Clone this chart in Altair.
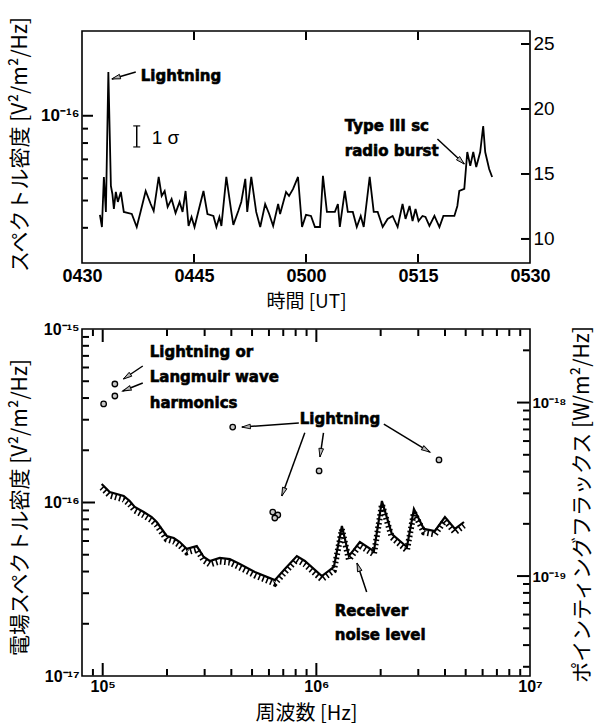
import math
import altair as alt
import pandas as pd

# ---------------- upper panel: spectral density vs. time ----------------
# minutes after 04:30 UT; level read on the right-hand linear scale
TIME_MIN = [2.40, 2.67, 2.93, 3.20, 3.53, 3.87, 4.07, 4.27, 4.53, 4.80,
            5.20, 5.60, 6.67, 7.33, 7.87, 8.53, 9.20, 9.60, 10.27, 10.67,
            11.07, 11.47, 12.00, 12.53, 13.07, 13.47, 13.87, 14.27, 14.67, 15.07,
            15.73, 16.27, 16.80, 17.60, 18.00, 18.40, 18.67, 19.33, 20.00, 20.27,
            20.93, 21.33, 21.87, 22.13, 22.67, 23.33, 23.87, 24.53, 25.07, 25.60,
            26.27, 26.53, 27.33, 27.73, 28.27, 28.93, 29.47, 30.00, 30.67, 31.20,
            31.87, 32.27, 32.80, 33.87, 34.27, 34.53, 35.20, 35.60, 36.27, 36.80,
            37.33, 37.73, 38.53, 39.07, 39.60, 40.27, 40.93, 41.60, 42.27, 42.93,
            43.33, 43.87, 44.27, 44.67, 45.07, 45.60, 46.00, 46.53, 47.20, 47.87,
            48.40, 49.87, 50.27, 50.53, 51.20, 51.60, 52.00, 52.40, 52.80, 53.33,
            53.73, 54.00, 54.53, 54.93]
LEVEL = [11.85, 10.92, 14.77, 12.08, 22.85, 14.08, 13.46, 12.31, 13.62, 12.85,
         13.62, 12.08, 11.92, 10.92, 12.15, 13.69, 12.69, 12.15, 14.77, 13.31,
         13.69, 12.46, 13.08, 12.00, 12.85, 12.08, 13.69, 11.00, 11.69, 10.92,
         12.46, 13.69, 11.92, 11.77, 10.92, 11.69, 11.00, 14.77, 12.08, 11.08,
         12.15, 12.85, 14.62, 12.08, 14.77, 12.08, 10.92, 12.69, 11.92, 11.00,
         12.69, 11.92, 13.62, 13.31, 13.85, 14.77, 10.92, 11.85, 11.77, 10.92,
         10.92, 14.85, 12.08, 12.08, 12.69, 10.92, 13.69, 12.08, 12.08, 10.92,
         11.77, 10.92, 14.77, 12.08, 12.08, 10.92, 11.54, 11.77, 10.92, 12.69,
         11.54, 12.54, 11.38, 12.31, 11.38, 11.77, 11.69, 11.00, 11.77, 10.92,
         11.77, 11.77, 12.54, 13.69, 13.85, 16.69, 15.62, 16.69, 15.54, 16.69,
         18.69, 16.69, 15.38, 14.77]

TIME_DOMAIN = [0.0, 60.0]
LEVEL_DOMAIN = [8.15, 26.0]
TOP_DENSITY_DOMAIN = [3e-17, 2e-16]
TIME_TICKS = [0, 15, 30, 45, 60]
TIME_INNER_TICKS = [15.0, 30.0, 45.0]
TIME_LABELS = ["0430", "0445", "0500", "0515", "0530"]
LEVEL_TICKS = [10.0, 15.0, 20.0, 25.0]
LEVEL_LABELS = ["10", "15", "20", "25"]
TOP_DENSITY_MAJOR = [1e-16]
TOP_DENSITY_LABELS = ["10⁻¹⁶"]
TOP_DENSITY_MINOR = [4e-17, 5e-17, 6e-17, 7e-17, 8e-17, 9e-17]

TOP_NOTE_TEXT = ["Lightning", "Type III sc", "radio burst"]
TOP_NOTE_T = [7.87, 35.2, 35.2]
TOP_NOTE_V = [22.54, 18.69, 16.77]
TOP_ARROW_T1 = [7.2, 47.6]
TOP_ARROW_V1 = [22.85, 17.69]
TOP_ARROW_T2 = [4.0, 51.2]
TOP_ARROW_V2 = [22.31, 15.77]
SIGMA_T = [7.33]
SIGMA_LOW = [17.08]
SIGMA_HIGH = [18.7]
SIGMA_TEXT = ["1 σ"]
SIGMA_TEXT_T = [9.33]
SIGMA_TEXT_V = [17.75]

# ---------------- lower panel: field spectrum vs. frequency ----------------
NOISE_FREQ = [9.89e4, 1.078e5, 1.254e5, 1.338e5, 1.412e5, 1.556e5, 1.696e5, 1.790e5,
              1.994e5, 2.151e5, 2.295e5, 2.475e5, 2.756e5, 2.972e5, 3.171e5, 3.532e5,
              3.934e5, 4.382e5, 5.152e5, 6.392e5, 7.121e5, 8.105e5, 8.834e5, 1.061e6,
              1.208e6, 1.317e6, 1.420e6, 1.598e6, 1.859e6, 2.027e6, 2.258e6, 2.654e6,
              2.862e6, 3.188e6, 3.589e6, 3.998e6, 4.454e6, 4.909e6]
NOISE_LEVEL = [1.278e-16, 1.149e-16, 1.090e-16, 1.020e-16, 9.42e-17, 8.82e-17, 8.25e-17,
               7.72e-17, 6.41e-17, 6.24e-17, 5.92e-17, 5.40e-17, 5.61e-17, 4.85e-17,
               4.60e-17, 4.79e-17, 4.72e-17, 4.42e-17, 3.98e-17, 3.57e-17, 4.14e-17,
               4.91e-17, 4.60e-17, 3.77e-17, 4.25e-17, 7.32e-17, 4.91e-17, 5.92e-17,
               5.25e-17, 1.020e-16, 6.58e-17, 5.54e-17, 9.17e-17, 7.04e-17, 6.85e-17,
               8.25e-17, 7.04e-17, 7.72e-17]
EVENT_FREQ = [1.01e5, 1.14e5, 1.14e5, 4.06e5, 6.25e5, 6.60e5, 6.39e5, 1.03e6, 3.75e6]
EVENT_LEVEL = [3.70e-16, 4.11e-16, 4.82e-16, 2.72e-16, 8.81e-17, 8.47e-17, 8.14e-17,
               1.52e-16, 1.76e-16]

Z0 = 376.7  # impedance of free space, ohm: Poynting flux = E^2 / Z0
FREQ_DOMAIN = [8e4, 1e7]
FIELD_DOMAIN = [1e-17, 1e-15]
FLUX_DOMAIN = [FIELD_DOMAIN[0] / Z0, FIELD_DOMAIN[1] / Z0]
FREQ_MAJOR = [1e5, 1e6, 1e7]
FREQ_LABELS = ["10⁵", "10⁶", "10⁷"]
FREQ_INNER_MAJOR = [1e5, 1e6]
FREQ_MINOR = [9e4, 2e5, 3e5, 4e5, 5e5, 6e5, 7e5, 8e5, 9e5,
              2e6, 3e6, 4e6, 5e6, 6e6, 7e6, 8e6, 9e6]
FIELD_MAJOR = [1e-17, 1e-16, 1e-15]
FIELD_LABELS = ["10⁻¹⁷", "10⁻¹⁶", "10⁻¹⁵"]
FIELD_INNER_MAJOR = [1e-16]
FIELD_MINOR = [2e-17, 3e-17, 4e-17, 5e-17, 6e-17, 7e-17, 8e-17, 9e-17,
               2e-16, 3e-16, 4e-16, 5e-16, 6e-16, 7e-16, 8e-16, 9e-16]
FLUX_MAJOR = [1e-19, 1e-18]
FLUX_LABELS = ["10⁻¹⁹", "10⁻¹⁸"]
FLUX_MINOR = [3e-20, 4e-20, 5e-20, 6e-20, 7e-20, 8e-20, 9e-20,
              2e-19, 3e-19, 4e-19, 5e-19, 6e-19, 7e-19, 8e-19, 9e-19, 2e-18]

BOT_NOTE_TEXT = ["Lightning or", "Langmuir wave", "harmonics", "Receiver", "noise level"]
BOT_NOTE_F = [1.66e5, 1.66e5, 1.66e5, 1.22e6, 1.22e6]
BOT_NOTE_E = [7.37e-16, 5.29e-16, 3.75e-16, 2.37e-17, 1.72e-17]
BOT_CENTER_TEXT = ["Lightning"]
BOT_CENTER_F = [1.29e6]
BOT_CENTER_E = [3.03e-16]
BOT_ARROW_F1 = [1.54e5, 1.54e5, 8.28e5, 8.83e5, 1.08e6, 2.07e6, 1.72e6]
BOT_ARROW_E1 = [6.12e-16, 4.88e-16, 2.87e-16, 2.52e-16, 2.52e-16, 2.83e-16, 3.05e-17]
BOT_ARROW_F2 = [1.25e5, 1.24e5, 4.48e5, 6.89e5, 1.04e6, 3.40e6, 1.55e6]
BOT_ARROW_E2 = [5.15e-16, 4.39e-16, 2.72e-16, 1.09e-16, 1.83e-16, 1.95e-16, 4.48e-17]

# ---------------- layout & style ----------------
W = 448
H_TOP = 232
H_BOT = 347
INSET = 0.5  # ticks start just inside the frame line
TICK_FONT = "Liberation Sans"
TITLE_FONT = "Noto Sans CJK JP"
NOTE_FONT = "DejaVu Sans"
ARROW_SHAPE = "M0,0L0.3,1.1L-0.3,1.1Z"


def label_expr(values, labels):
    expr = "''"
    for v, s in reversed(list(zip(values, labels))):
        tol = abs(v) * 1e-3 if v else 1e-6
        expr = f"abs(datum.value - {v!r}) < {tol!r} ? '{s}' : ({expr})"
    return expr


def lin(domain):
    return alt.Scale(type="linear", domain=domain, nice=False, zero=False)


def log(domain):
    return alt.Scale(type="log", domain=domain, nice=False)


def label_axis(orient, values, labels, size, weight, pad, title=None, **kw):
    # labels only; the inward ticks are drawn as segments
    opts = dict(orient=orient, values=values, labelExpr=label_expr(values, labels),
                ticks=False, tickSize=0, domain=False, grid=False,
                labelFont=TICK_FONT, labelFontSize=size, labelFontWeight=weight,
                labelPadding=pad, labelFlush=False, labelOverlap=False)
    if title:
        opts.update(title=title, titleFont=TITLE_FONT, titleFontWeight="normal",
                    titleBaseline="middle", titleAlign="center", **kw)
    else:
        opts.update(title=None)
    return alt.Axis(**opts)


def y_carrier(values, scale, axis, other_scale, other_value):
    df = pd.DataFrame({"v": values, "o": [other_value] * len(values)})
    return alt.Chart(df).mark_point(opacity=0).encode(
        y=alt.Y("v:Q", scale=scale, axis=axis),
        x=alt.X("o:Q", scale=other_scale, axis=None))


def at_pixel(domain, is_log, span, px):
    """Data value lying px pixels from the start of a scale's range."""
    a, b = domain
    if is_log:
        return a * (b / a) ** (px / span)
    return a + (b - a) * px / span


def side_ticks(values, orient, length, xdom, ydom, xlog, ylog, height):
    """Inward tick segments (x1, y1, x2, y2) along one side of the frame."""
    n = len(values)
    vals = [float(v) for v in values]
    if orient == "left":
        a, b = at_pixel(xdom, xlog, W, INSET), at_pixel(xdom, xlog, W, length)
        return [a] * n, vals, [b] * n, vals
    if orient == "right":
        a, b = at_pixel(xdom, xlog, W, W - INSET), at_pixel(xdom, xlog, W, W - length)
        return [a] * n, vals, [b] * n, vals
    if orient == "bottom":
        a, b = at_pixel(ydom, ylog, height, INSET), at_pixel(ydom, ylog, height, length)
    else:
        a, b = (at_pixel(ydom, ylog, height, height - INSET),
                at_pixel(ydom, ylog, height, height - length))
    return vals, [a] * n, vals, [b] * n


def join(*parts):
    out = ([], [], [], [])
    for p in parts:
        for acc, col in zip(out, p):
            acc.extend(col)
    return out


def segments(cols, xscale, yscale, width):
    x1, y1, x2, y2 = cols
    df = pd.DataFrame({"x1": x1, "y1": y1, "x2": x2, "y2": y2})
    return alt.Chart(df).mark_rule(color="black", strokeWidth=width, strokeCap="butt").encode(
        x=alt.X("x1:Q", scale=xscale, axis=None), y=alt.Y("y1:Q", scale=yscale, axis=None),
        x2="x2:Q", y2="y2:Q")


def arrow_angles(dx, dy):
    return [math.degrees(math.atan2(a, b)) % 360 for a, b in zip(dx, dy)]


def arrow_heads(x2, y2, xscale, yscale, angles):
    df = pd.DataFrame({"x2": x2, "y2": y2, "ang": angles})
    return alt.Chart(df).mark_point(shape=ARROW_SHAPE, filled=True, fill="#b4b4b4",
                                    stroke="black", strokeWidth=0.9, size=240, opacity=1).encode(
        x=alt.X("x2:Q", scale=xscale, axis=None), y=alt.Y("y2:Q", scale=yscale, axis=None),
        angle=alt.Angle("ang:Q", scale=None))


def notes(text, xs, ys, xscale, yscale, align, size=15):
    df = pd.DataFrame({"t": text, "x": xs, "y": ys})
    return alt.Chart(df).mark_text(font=NOTE_FONT, fontWeight="bold", fontSize=size,
                                   align=align, baseline="middle", color="black",
                                   stroke="black", strokeWidth=0.6).encode(
        x=alt.X("x:Q", scale=xscale, axis=None), y=alt.Y("y:Q", scale=yscale, axis=None),
        text="t:N")


# ---------------- upper panel ----------------
t_scale = lin(TIME_DOMAIN)
v_scale = lin(LEVEL_DOMAIN)
d_scale = log(TOP_DENSITY_DOMAIN)


def density_to_level(d):
    # position of a left-axis (log) value expressed on the right-axis (linear) scale
    frac = math.log(d / TOP_DENSITY_DOMAIN[0]) / math.log(TOP_DENSITY_DOMAIN[1] / TOP_DENSITY_DOMAIN[0])
    return LEVEL_DOMAIN[0] + (LEVEL_DOMAIN[1] - LEVEL_DOMAIN[0]) * frac


series = alt.Chart(pd.DataFrame({"t": TIME_MIN, "v": LEVEL})).mark_line(
    color="black", strokeWidth=1.8, strokeJoin="miter").encode(
    x=alt.X("t:Q", scale=t_scale,
            axis=label_axis("bottom", TIME_TICKS, TIME_LABELS, 18, "bold", 4,
                            title="時間 [UT]", titleFontSize=19, titleX=W / 2, titleY=38)),
    y=alt.Y("v:Q", scale=v_scale,
            axis=label_axis("right", LEVEL_TICKS, LEVEL_LABELS, 19, "normal", 3)))

sx_top = W / (TIME_DOMAIN[1] - TIME_DOMAIN[0])
sy_top = H_TOP / (LEVEL_DOMAIN[1] - LEVEL_DOMAIN[0])
top_ang = arrow_angles([(b - a) * sx_top for a, b in zip(TOP_ARROW_T1, TOP_ARROW_T2)],
                       [(b - a) * sy_top for a, b in zip(TOP_ARROW_V1, TOP_ARROW_V2)])


def top_side(values, orient, length):
    return side_ticks(values, orient, length, TIME_DOMAIN, LEVEL_DOMAIN, False, False, H_TOP)


top_pointer_lines = join(
    (TOP_ARROW_T1, TOP_ARROW_V1, TOP_ARROW_T2, TOP_ARROW_V2),
    (SIGMA_T, SIGMA_LOW, SIGMA_T, SIGMA_HIGH),
)
top_tick_lines = join(
    top_side(TIME_INNER_TICKS, "bottom", 9),
    top_side(TIME_INNER_TICKS, "top", 9),
    top_side(LEVEL_TICKS, "right", 9),
    top_side([density_to_level(d) for d in TOP_DENSITY_MAJOR], "left", 11),
    top_side([density_to_level(d) for d in TOP_DENSITY_MINOR], "left", 6),
)

sigma_df = pd.DataFrame({"t": SIGMA_T * 2, "v": SIGMA_LOW + SIGMA_HIGH})
sigma_caps = alt.Chart(sigma_df).mark_tick(
    orient="horizontal", color="black", size=7, thickness=1.6).encode(
    x=alt.X("t:Q", scale=t_scale, axis=None), y=alt.Y("v:Q", scale=v_scale, axis=None))
sigma_text = alt.Chart(pd.DataFrame({"s": SIGMA_TEXT, "t": SIGMA_TEXT_T, "v": SIGMA_TEXT_V})).mark_text(
    font=TICK_FONT, fontSize=19, align="left", baseline="middle", color="black").encode(
    x=alt.X("t:Q", scale=t_scale, axis=None), y=alt.Y("v:Q", scale=v_scale, axis=None),
    text="s:N")

top = alt.layer(
    series,
    y_carrier(TOP_DENSITY_MAJOR, d_scale,
              label_axis("left", TOP_DENSITY_MAJOR, TOP_DENSITY_LABELS, 17, "bold", 3,
                         title="スペクトル密度 [V²/m²/Hz]", titleFontSize=21, titleAngle=270,
                         titleX=-62, titleY=113), t_scale, 30.0),
    segments(top_pointer_lines, t_scale, v_scale, 1.5),
    segments(top_tick_lines, t_scale, v_scale, 2.0),
    arrow_heads(TOP_ARROW_T2, TOP_ARROW_V2, t_scale, v_scale, top_ang),
    notes(TOP_NOTE_TEXT, TOP_NOTE_T, TOP_NOTE_V, t_scale, v_scale, "left"),
    sigma_caps, sigma_text,
).resolve_scale(x="independent", y="independent").properties(width=W, height=H_TOP)

# ---------------- lower panel ----------------
f_scale = log(FREQ_DOMAIN)
e_scale = log(FIELD_DOMAIN)
p_scale = log(FLUX_DOMAIN)

noise_df = pd.DataFrame({"f": NOISE_FREQ, "e": NOISE_LEVEL})
noise = alt.Chart(noise_df).mark_line(color="black", strokeWidth=2.2).encode(
    x=alt.X("f:Q", scale=f_scale,
            axis=label_axis("bottom", FREQ_MAJOR, FREQ_LABELS, 16, "bold", 2,
                            title="周波数 [Hz]", titleFontSize=20, titleX=W / 2, titleY=37)),
    y=alt.Y("e:Q", scale=e_scale,
            axis=label_axis("left", FIELD_MAJOR, FIELD_LABELS, 16, "bold", 3,
                            title="電場スペクトル密度 [V²/m²/Hz]", titleFontSize=21,
                            titleAngle=270, titleX=-62, titleY=178)))
# hatching on the underside of the receiver noise level
hatch = alt.Chart(noise_df).mark_line(color="black", strokeWidth=6, strokeDash=[1.6, 2.6],
                                      yOffset=3.5, strokeCap="butt").encode(
    x=alt.X("f:Q", scale=f_scale, axis=None), y=alt.Y("e:Q", scale=e_scale, axis=None))
events = alt.Chart(pd.DataFrame({"f": EVENT_FREQ, "e": EVENT_LEVEL})).mark_point(
    shape="circle", filled=True, fill="#c8c8c8", stroke="black", strokeWidth=1.3,
    size=30, opacity=1).encode(
    x=alt.X("f:Q", scale=f_scale, axis=None), y=alt.Y("e:Q", scale=e_scale, axis=None))

sx_bot = W / math.log10(FREQ_DOMAIN[1] / FREQ_DOMAIN[0])
sy_bot = H_BOT / math.log10(FIELD_DOMAIN[1] / FIELD_DOMAIN[0])
bot_ang = arrow_angles([math.log10(b / a) * sx_bot for a, b in zip(BOT_ARROW_F1, BOT_ARROW_F2)],
                       [math.log10(b / a) * sy_bot for a, b in zip(BOT_ARROW_E1, BOT_ARROW_E2)])


def bot_side(values, orient, length):
    return side_ticks(values, orient, length, FREQ_DOMAIN, FIELD_DOMAIN, True, True, H_BOT)


bot_pointer_lines = join((BOT_ARROW_F1, BOT_ARROW_E1, BOT_ARROW_F2, BOT_ARROW_E2))
bot_tick_lines = join(
    bot_side(FREQ_INNER_MAJOR, "bottom", 13),
    bot_side(FREQ_MINOR, "bottom", 7),
    bot_side(FREQ_INNER_MAJOR, "top", 13),
    bot_side(FREQ_MINOR, "top", 7),
    bot_side(FIELD_INNER_MAJOR, "left", 13),
    bot_side(FIELD_MINOR, "left", 7),
    bot_side([p * Z0 for p in FLUX_MAJOR], "right", 13),
    bot_side([p * Z0 for p in FLUX_MINOR], "right", 7),
)

bottom = alt.layer(
    noise, hatch, events,
    y_carrier(FLUX_MAJOR, p_scale,
              label_axis("right", FLUX_MAJOR, FLUX_LABELS, 15, "bold", 2,
                         title="ポインティングフラックス [W/m²/Hz]", titleFontSize=21,
                         titleAngle=270, titleX=52, titleY=175), f_scale, 1e6),
    segments(bot_pointer_lines, f_scale, e_scale, 1.5),
    segments(bot_tick_lines, f_scale, e_scale, 2.0),
    arrow_heads(BOT_ARROW_F2, BOT_ARROW_E2, f_scale, e_scale, bot_ang),
    notes(BOT_NOTE_TEXT, BOT_NOTE_F, BOT_NOTE_E, f_scale, e_scale, "left"),
    notes(BOT_CENTER_TEXT, BOT_CENTER_F, BOT_CENTER_E, f_scale, e_scale, "center"),
).resolve_scale(x="independent", y="independent").properties(width=W, height=H_BOT)

chart = alt.vconcat(top, bottom, spacing=66, bounds="flush").properties(
    padding={"left": 8, "top": 14, "right": 5, "bottom": 5},
    background="white",
).configure_view(stroke="black", strokeWidth=1.6).configure_axis(
    labelColor="black", titleColor="black")

chart.save("out.html", embed_options={"renderer": "svg", "actions": False})
